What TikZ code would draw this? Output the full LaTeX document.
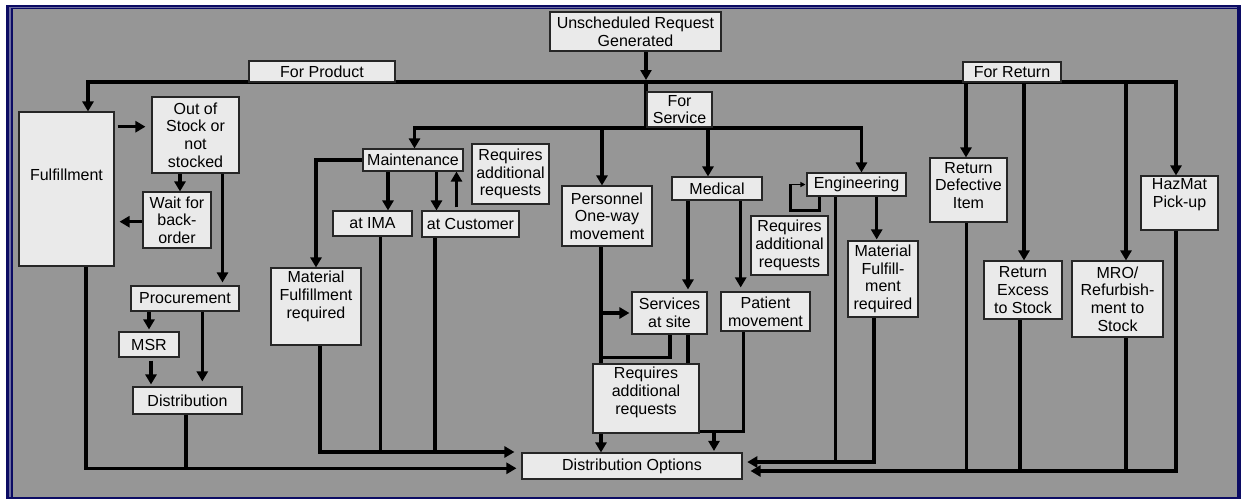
\documentclass[tikz,border=0pt]{standalone}
\usepackage{fontspec}
\setmainfont{Liberation Sans}
\usetikzlibrary{arrows.meta}
\definecolor{navy}{RGB}{12,12,100}
\definecolor{edgeblue}{RGB}{110,110,160}
\definecolor{panel}{RGB}{150,150,150}
\definecolor{boxfill}{RGB}{234,234,234}
\pgfdeclarelayer{frame}
\pgfdeclarelayer{wires}
\pgfsetlayers{frame,wires,main}

\begin{document}
\begin{tikzpicture}[x=1pt,y=-1pt,
  every node/.style={font=\fontsize{16}{17.7}\selectfont, text=black},
  box/.style={draw=black!85, line width=1.1pt, fill=boxfill, inner sep=0pt, align=center},
  txt/.style={align=center, inner sep=0pt},
  wire/.style={line width=3.4pt},
  arr/.style={wire, -{Triangle[length=10pt,width=11pt]}},
  thinarr/.style={line width=1.2pt, -{Triangle[length=5pt,width=5pt]}},
]
\useasboundingbox (0,0) rectangle (1243,499);

% panel and frame
\begin{pgfonlayer}{frame}
\fill[white] (0,0) rectangle (1243,499);
\fill[navy] (6,5) rectangle (1240.5,499);
\fill[edgeblue] (9.3,6.7) rectangle (1237,496.5);
\fill[navy] (11,8) rectangle (1237,496.5);
\fill[panel] (12.7,9.3) rectangle (1237,496.5);
\end{pgfonlayer}

% top and branch labels
\node[box, minimum width=171pt, minimum height=39pt] (unsch) at (635.5,31.5) {Unscheduled Request\\Generated};
\node[box, minimum width=146pt, minimum height=21pt] (prod) at (322,71.5) {For Product};
\node[box, minimum width=98pt, minimum height=20pt] (ret) at (1012,72) {For Return};
\node[box, minimum width=65pt, minimum height=35pt] (serv) at (679.5,109.5) {For\\Service};

% product side
\node[box, minimum width=95pt, minimum height=154pt, label={[txt,yshift=14pt]center:Fulfillment}] (fulf) at (66.5,189) {};
\node[box, minimum width=87pt, minimum height=76pt] (out) at (195.5,135) {Out of\\Stock or\\not\\stocked};
\node[box, minimum width=68pt, minimum height=56pt] (wait) at (177,220) {Wait for\\back-\\order};
\node[box, minimum width=108pt, minimum height=25pt] (proc) at (185,298.5) {Procurement};
\node[box, minimum width=60pt, minimum height=25pt] (msr) at (149,344.5) {MSR};
\node[box, minimum width=109pt, minimum height=27pt] (dist) at (187.5,400.5) {Distribution};

% service side
\node[box, minimum width=100pt, minimum height=22pt] (maint) at (413,160) {Maintenance};
\node[box, minimum width=77pt, minimum height=60pt] (reqm) at (510.5,174) {Requires\\additional\\requests};
\node[box, minimum width=79pt, minimum height=25pt] (ima) at (372.5,223.5) {at IMA};
\node[box, minimum width=97pt, minimum height=26pt] (cust) at (470.5,224) {at Customer};
\node[box, minimum width=90pt, minimum height=77pt, label={[txt,yshift=10pt]center:{Material\\Fulfillment\\required}}] (matm) at (316,306.5) {};
\node[box, minimum width=90pt, minimum height=60pt] (pers) at (607,216) {Personnel\\One-way\\movement};
\node[box, minimum width=90pt, minimum height=23pt] (med) at (717,188.5) {Medical};
\node[box, minimum width=99pt, minimum height=23pt] (eng) at (856.5,184.5) {Engineering};
\node[box, minimum width=77pt, minimum height=59pt] (reqe) at (789.5,245.5) {Requires\\additional\\requests};
\node[box, minimum width=70pt, minimum height=76pt] (mate) at (883,279) {Material\\Fulfill-\\ment\\required};
\node[box, minimum width=75pt, minimum height=42pt] (svc) at (669.5,313) {Services\\at site};
\node[box, minimum width=89pt, minimum height=39pt] (pat) at (765.5,311.5) {Patient\\movement};
\node[box, minimum width=106pt, minimum height=69pt, label={[txt,yshift=6pt]center:{Requires\\additional\\requests}}] (reqs) at (646,398.5) {};
\node[box, minimum width=220pt, minimum height=26pt] (dopt) at (632,466) {Distribution Options};

% return side
\node[box, minimum width=77pt, minimum height=64pt, label={[txt,yshift=4.5pt]center:{Return\\Defective\\Item}}] (rdef) at (968.5,190) {};
\node[box, minimum width=78pt, minimum height=58pt] (rexc) at (1023,290) {Return\\Excess\\to Stock};
\node[box, minimum width=91pt, minimum height=76pt] (mro) at (1117.5,299) {MRO/\\Refurbish-\\ment to\\Stock};
\node[box, minimum width=77pt, minimum height=54pt, label={[txt,yshift=8.5pt]center:{HazMat\\Pick-up}}] (haz) at (1179.5,203) {};

\begin{pgfonlayer}{wires}
% junctions and attachment points
\coordinate (top) at (646,82);
\coordinate (sv) at (646,128);
\coordinate (c-fulfin) at ([xshift=21.5pt]fulf.north);
\coordinate (c-hazin) at ([xshift=-3.5pt]haz.north);
\coordinate (c-rdefin) at ([xshift=-2.5pt]rdef.north);
\coordinate (c-rexcin) at ([xshift=1pt]rexc.north);
\coordinate (c-mroin) at ([xshift=8.5pt]mro.north);
\coordinate (c-maintin) at ([xshift=1.5pt]maint.north);
\coordinate (c-engin) at ([xshift=5pt]eng.north);
\coordinate (c-persin) at ([xshift=-5pt]pers.north);
\coordinate (c-medin) at ([xshift=-9pt]med.north);
\coordinate (c-ima) at ([xshift=15.5pt]ima.north);
\coordinate (c-custin) at ([xshift=-34pt]cust.north);
\coordinate (c-custup) at ([xshift=-14pt]cust.north);
\coordinate (c-dtop) at ([xshift=-7pt,yshift=14pt]dopt.west);
\coordinate (c-dmid) at ([xshift=-5pt,yshift=-2.3pt]dopt.west);
\coordinate (c-imaout) at ([xshift=8pt]ima.south);
\coordinate (c-custout) at ([xshift=-35.5pt]cust.south);
\coordinate (c-distout) at ([xshift=-1.5pt]dist.south);
\coordinate (c-fo) at ([yshift=8.3pt]out.west);
\coordinate (c-waitin) at ([xshift=3pt]wait.north);
\coordinate (c-wo) at ([yshift=-1.7pt]wait.west);
\coordinate (c-outdn) at ([xshift=27pt]out.south);
\coordinate (c-msrdn) at ([xshift=2pt]msr.south);
\coordinate (c-procdn) at ([xshift=17.3pt]proc.south);
\coordinate (c-persout) at ([xshift=-6pt]pers.south);
\coordinate (c-loopy) at ([yshift=6pt]reqs.north);
\coordinate (c-medsvc) at ([xshift=18.5pt]svc.north);
\coordinate (c-medsvc2) at ([xshift=18.5pt]svc.south);
\coordinate (c-medpat) at ([xshift=-24.8pt]pat.north);
\coordinate (c-patout) at ([xshift=-22pt]pat.south);
\coordinate (c-pq) at ([yshift=2pt]reqs.south east);
\coordinate (c-pdown) at ([xshift=82pt]dopt.north);
\coordinate (c-engmat) at ([xshift=-6.3pt]mate.north);
\coordinate (c-engdn) at ([xshift=-20.8pt]eng.south);
\coordinate (c-de) at ([yshift=4pt]dopt.east);
\coordinate (c-dr) at ([yshift=-5pt]dopt.east);
\coordinate (c-rdefout) at ([xshift=-2pt]rdef.south);
\coordinate (c-rexcout) at ([xshift=-3pt]rexc.south);
\coordinate (c-mroout) at ([xshift=8.5pt]mro.south);

% request into the three branches
\draw[arr] ([xshift=10.5pt]unsch.south) -- ([yshift=2pt]top);
\draw[arr] (top) -| (c-fulfin);
\draw[arr] (top) -| (c-hazin);
\draw[arr] (c-rdefin |- top) -- (c-rdefin);
\draw[arr] (c-rexcin |- top) -- (c-rexcin);
\draw[arr] (c-mroin |- top) -- (c-mroin);
\draw[wire] (top) -- (sv);

% service branches
\draw[arr] (sv) -| (c-maintin);
\draw[arr] (sv) -| (c-engin);
\draw[arr] (c-persin |- sv) -- (c-persin);
\draw[arr] (c-medin |- sv) -- (c-medin);

% maintenance
\draw[arr] (c-ima |- maint.south) -- (c-ima);
\draw[arr] (c-custin |- maint.south) -- (c-custin);
\draw[arr, shorten <=3pt] (c-custup) -- (c-custup |- maint.south);
\draw[arr] (maint.west) -| (matm.north);
\draw[arr] ([xshift=4pt]matm.south) |- (c-dtop);
\draw[wire] (c-imaout) -- (c-imaout |- c-dtop);
\draw[wire] (c-custout) -- (c-custout |- c-dtop);

% product flow
\draw[arr, shorten <=3pt, shorten >=6pt] (c-fo -| fulf.east) -- (c-fo);
\draw[arr] (c-waitin |- out.south) -- (c-waitin);
\draw[arr, shorten >=5pt] (c-wo) -- (c-wo -| fulf.east);
\draw[arr, shorten >=3pt] (c-outdn) -- (c-outdn |- proc.north);
\draw[arr, shorten >=2pt] (proc.south -| msr.north) -- (msr.north);
\draw[arr, shorten <=3pt, shorten >=2pt] (c-msrdn) -- (c-msrdn |- dist.north);
\draw[arr, shorten >=5pt] (c-procdn) -- (c-procdn |- dist.north);
\draw[arr] ([xshift=19.5pt]fulf.south) |- (c-dmid);
\draw[wire] (c-distout) -- (c-distout |- c-dmid);

% personnel and medical
\draw[arr] (c-persout) -- (c-persout |- dopt.north);
\draw[arr, shorten >=2pt] (c-persout |- svc.west) -- (svc.west);
\draw[wire] ([xshift=0.5pt]svc.south) |- (c-persout |- c-loopy);
\draw[arr, shorten >=2pt] (c-medsvc |- med.south) -- (c-medsvc);
\draw[wire] (c-medsvc2) -- (c-medsvc2 |- reqs.north);
\draw[arr, shorten >=4pt] (c-medpat |- med.south) -- (c-medpat);
\draw[wire] (c-patout) |- (c-pq);
\draw[arr, shorten >=1.5pt] (c-pdown |- c-pq) -- (c-pdown);

% engineering
\draw[arr, shorten >=1pt] (c-engmat |- eng.south) -- (c-engmat);
\draw[wire, line width=3pt] ([xshift=-37.2pt]eng.south) -- ++(0,14) -| ([xshift=-16.3pt,yshift=1pt]eng.west);
\draw[thinarr, shorten >=1pt] ([xshift=-16.3pt]eng.west) -- (eng.west);
\draw[arr, shorten >=4.7pt] ([xshift=-9pt]mate.south) |- (c-de);
\draw[wire] (c-engdn) -- (c-engdn |- c-de);

% returns
\draw[arr, shorten >=8pt] ([xshift=-3.5pt]haz.south) |- (c-dr);
\draw[wire] (c-rdefout) -- (c-rdefout |- c-dr);
\draw[wire] (c-rexcout) -- (c-rexcout |- c-dr);
\draw[wire] (c-mroout) -- (c-mroout |- c-dr);
\end{pgfonlayer}
\end{tikzpicture}
\end{document}
